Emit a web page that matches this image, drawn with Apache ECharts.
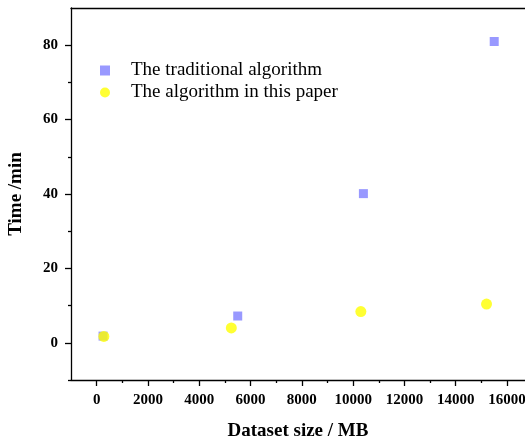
<!DOCTYPE html>
<html>
<head>
<meta charset="utf-8">
<script src="https://cdn.jsdelivr.net/npm/echarts@6/dist/echarts.min.js"></script>
<style>
  html, body { margin: 0; padding: 0; background: #fff; }
  #chart { width: 525px; height: 440px; }
</style>
</head>
<body>
<div id="chart"></div>
<script>
var seriesNames = ['The traditional algorithm', 'The algorithm in this paper']
var tradSize = [250, 5500, 10400, 15500]
var tradTime = [1.8, 7.2, 40.1, 81.0]
var oursSize = [280, 5250, 10300, 15200]
var oursTime = [1.7, 4.0, 8.4, 10.4]
var xMajor = [0, 2000, 4000, 6000, 8000, 10000, 12000, 14000, 16000]
var xMinor = [1000, 3000, 5000, 7000, 9000, 11000, 13000, 15000]
var yMajor = [0, 20, 40, 60, 80]
var yMinor = [-10, 10, 30, 50, 70]

var pairs = function (xs, ys) {
    var res = []
    for (var i = 0; i < xs.length; i++) res.push([xs[i], ys[i]])
    return res
}

var font = 'Liberation Serif'
var chart = echarts.init(document.getElementById('chart'))

var xBase = {
    type: 'value', min: -1000, max: 16700,
    splitLine: { show: false }
}
var yBase = {
    type: 'value', min: -10, max: 90,
    splitLine: { show: false }
}
var plain = function (v) { return String(v) }

var option = {
    animation: false,
    grid: { left: 71, right: 0, top: 8, bottom: 60, containLabel: false, outerBoundsMode: 'none' },
    legend: {
        orient: 'vertical',
        left: 95, top: 56,
        itemWidth: 10, itemHeight: 10, itemGap: 3,
        textStyle: { fontFamily: font, fontSize: 19, color: '#000', padding: [0, 0, 0, 16] },
        data: [
            { name: seriesNames[0], icon: 'rect' },
            { name: seriesNames[1], icon: 'circle' }
        ]
    },
    xAxis: [
        Object.assign({}, xBase, {
            position: 'bottom',
            name: 'Dataset size / MB',
            nameLocation: 'middle',
            nameGap: 42,
            nameTextStyle: { fontFamily: font, fontSize: 19, fontWeight: 'bold', color: '#000' },
            axisLine: { onZero: false, lineStyle: { color: '#000', width: 1.3 } },
            axisTick: { show: true, customValues: xMajor, length: 6, inside: false, lineStyle: { color: '#000', width: 1.3 } },
            axisLabel: { customValues: xMajor, formatter: plain, fontFamily: font, fontSize: 15, fontWeight: 'bold', color: '#000', margin: 13 }
        }),
        Object.assign({}, xBase, {
            position: 'bottom',
            axisLine: { show: false, onZero: false },
            axisTick: { show: true, customValues: xMinor, length: 3, lineStyle: { color: '#000', width: 1.3 } },
            axisLabel: { show: false }
        }),
        Object.assign({}, xBase, {
            position: 'top',
            axisLine: { show: true, onZero: false, lineStyle: { color: '#000', width: 1.3 } },
            axisTick: { show: false },
            axisLabel: { show: false }
        })
    ],
    yAxis: [
        Object.assign({}, yBase, {
            position: 'left',
            name: 'Time /min',
            nameLocation: 'middle',
            nameGap: 45,
            nameTextStyle: { fontFamily: font, fontSize: 19, fontWeight: 'bold', color: '#000' },
            axisLine: { show: true, onZero: false, lineStyle: { color: '#000', width: 1.3 } },
            axisTick: { show: true, customValues: yMajor, length: 6, lineStyle: { color: '#000', width: 1.3 } },
            axisLabel: { customValues: yMajor, formatter: plain, fontFamily: font, fontSize: 15, fontWeight: 'bold', color: '#000', margin: 13 }
        }),
        Object.assign({}, yBase, {
            position: 'left',
            axisLine: { show: false, onZero: false },
            axisTick: { show: true, customValues: yMinor, length: 3, lineStyle: { color: '#000', width: 1.3 } },
            axisLabel: { show: false }
        })
    ],
    series: [
        {
            name: seriesNames[0],
            type: 'scatter',
            symbol: 'rect',
            symbolSize: 9,
            itemStyle: { color: '#8080ff' },
            data: pairs(tradSize, tradTime)
        },
        {
            name: seriesNames[1],
            type: 'scatter',
            symbol: 'circle',
            symbolSize: 11,
            itemStyle: { color: '#ffff00' },
            data: pairs(oursSize, oursTime)
        }
    ]
}

chart.setOption(option)
</script>
</body>
</html>
